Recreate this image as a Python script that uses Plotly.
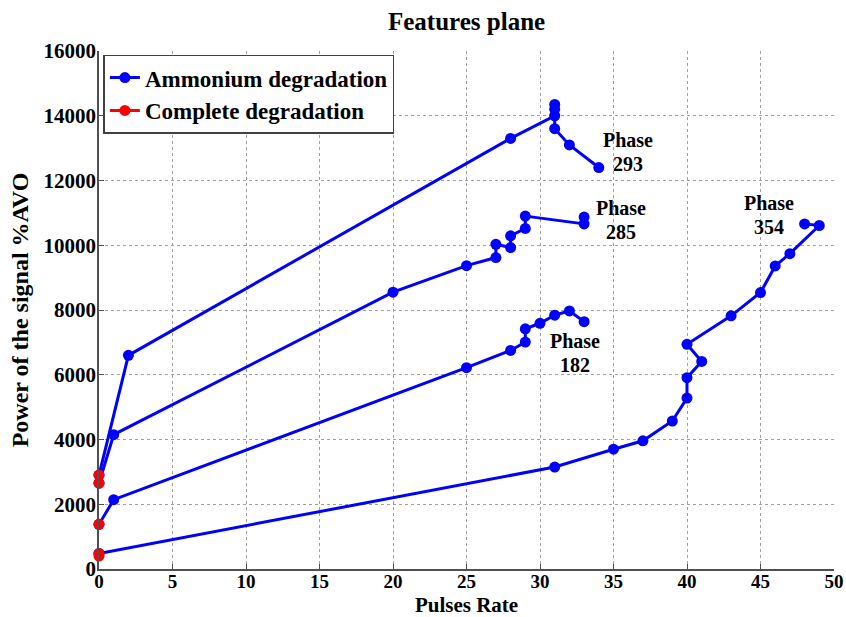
import plotly.graph_objects as go

# Pulses rate (x) and signal power (y) for each phase
phase293_x = [0, 2, 28, 31, 31, 31, 31, 32, 34]
phase293_y = [2900, 6600, 13300, 14000, 14350, 14200, 13600, 13100, 12400]

phase285_x = [0, 1, 20, 25, 27, 27, 28, 28, 29, 29, 33, 33]
phase285_y = [2650, 4150, 8550, 9370, 9620, 10030, 9930, 10290, 10520, 10900, 10660, 10870]

phase182_x = [0, 1, 25, 28, 29, 29, 30, 31, 32, 33]
phase182_y = [1380, 2140, 6220, 6750, 7010, 7420, 7590, 7840, 7970, 7640]

phase354_x = [0, 31, 35, 37, 39, 40, 40, 41, 40, 43, 45, 46, 47, 49, 48]
phase354_y = [480, 3150, 3700, 3960, 4570, 5280, 5910, 6410, 6940, 7820, 8540, 9360, 9740, 10610, 10660]

# Complete-degradation end points (all at zero pulses)
complete_x = [0, 0, 0, 0, 0]
complete_y = [2900, 2650, 1380, 480, 400]

# Two-line phase labels: "Phase" above the phase number
phase_numbers = ["293", "285", "182", "354"]
label_x = [36.0, 35.5, 32.4, 45.6]
label_y = [12880, 10780, 6670, 10930]

x_ticks = list(range(0, 51, 5))
y_ticks = list(range(0, 16001, 2000))

BLUE = "#0000ff"
RED = "#ff0000"
SERIF = "Liberation Serif"

fig = go.Figure()

series = [(phase293_x, phase293_y), (phase285_x, phase285_y),
          (phase182_x, phase182_y), (phase354_x, phase354_y)]
for i, (xs, ys) in enumerate(series):
    fig.add_trace(go.Scatter(
        x=xs, y=ys, mode="lines+markers", cliponaxis=False,
        line=dict(color=BLUE, width=3),
        marker=dict(color=BLUE, size=11, symbol="circle"),
        name="Ammonium degradation",
        legendgroup="amm", showlegend=(i == 0),
    ))

# Isolated red points: separate each value with a gap so no line joins them
cx, cy = [], []
for xv, yv in zip(complete_x, complete_y):
    cx += [xv, None]
    cy += [yv, None]
fig.add_trace(go.Scatter(
    x=cx, y=cy, mode="lines+markers", connectgaps=False, cliponaxis=False,
    line=dict(color=RED, width=3),
    marker=dict(color=RED, size=11, symbol="circle"),
    name="Complete degradation",
))

label_font = dict(family=SERIF, size=20, color="black", weight="bold")
for num, xv, yv in zip(phase_numbers, label_x, label_y):
    fig.add_annotation(x=xv, y=yv, text="Phase", showarrow=False,
                       yshift=12, font=label_font)
    fig.add_annotation(x=xv, y=yv, text=num, showarrow=False,
                       yshift=-12, font=label_font)

axis_common = dict(
    showgrid=True, gridcolor="#a0a0a0", griddash="dot", gridwidth=1,
    showline=True, linecolor="#505050", linewidth=1.5,
    ticks="inside", ticklen=5, tickcolor="#505050",
    zeroline=False, automargin=False,
)

fig.update_xaxes(
    range=[0, 50], tickvals=x_ticks, tickformat="d", ticklabelstandoff=-6,
    tickfont=dict(family=SERIF, size=19, color="black", weight="bold"),
    title=dict(text="Pulses Rate", standoff=7,
               font=dict(family=SERIF, size=21, color="black", weight="bold")),
    **axis_common,
)
fig.update_yaxes(
    range=[0, 16000], tickvals=y_ticks, tickformat="d", ticklabelstandoff=-3,
    tickfont=dict(family=SERIF, size=21, color="black", weight="bold"),
    title=dict(text="Power of the signal %AVO", standoff=8,
               font=dict(family=SERIF, size=24, color="black", weight="bold")),
    **axis_common,
)

fig.update_layout(
    width=846, height=617,
    margin=dict(l=99, r=12, t=51, b=48),
    paper_bgcolor="white", plot_bgcolor="white",
    title=dict(text="Features plane", x=0.5515, xanchor="center",
               y=0.965, yanchor="middle",
               font=dict(family=SERIF, size=25, color="black", weight="bold")),
    legend=dict(
        x=0.006, y=0.993, xanchor="left", yanchor="top",
        bgcolor="white", bordercolor="#404040", borderwidth=1.5,
        font=dict(family=SERIF, size=23, color="black", weight="bold"),
        tracegroupgap=0, itemwidth=30,
    ),
    showlegend=True,
)

fig.write_html("out.html")
